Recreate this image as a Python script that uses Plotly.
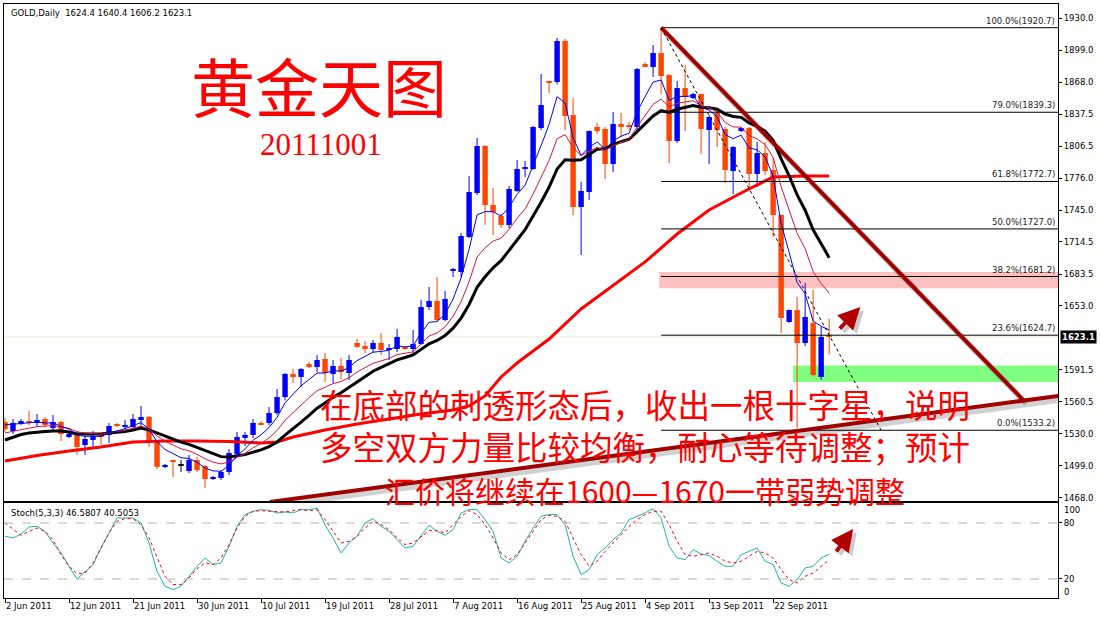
import plotly.graph_objects as go
import pandas as pd

# ---------------- data ----------------
opens = [1541.2, 1532.5, 1539.2, 1541.2, 1540.2, 1544.0, 1535.4, 1541.2, 1526.7, 1530.6,
         1519.0, 1523.8, 1528.7, 1528.7, 1539.2, 1536.3, 1536.3, 1543.1, 1546.0, 1521.9,
         1497.9, 1503.6, 1498.8, 1494.0, 1504.6, 1498.8, 1486.3, 1487.3, 1493.0, 1510.4,
         1525.8, 1528.7, 1540.2, 1540.2, 1549.8, 1565.2, 1587.4, 1584.5, 1597.0, 1594.1,
         1601.8, 1587.4, 1595.1, 1588.3, 1617.2, 1614.3, 1611.4, 1617.2, 1610.5, 1611.4,
         1613.4, 1611.4, 1616.2, 1651.8, 1657.6, 1639.3, 1686.5, 1685.5, 1719.2, 1761.6,
         1806.8, 1750.0, 1739.4, 1730.8, 1763.5, 1784.7, 1784.7, 1824.1, 1869.4, 1868.4,
         1907.9, 1836.6, 1748.1, 1762.5, 1825.1, 1823.2, 1789.5, 1828.0, 1826.0, 1825.1,
         1885.7, 1882.8, 1896.3, 1875.1, 1811.6, 1862.6, 1853.0, 1856.9, 1822.2, 1838.6,
         1823.2, 1782.7, 1821.2, 1824.1, 1779.9, 1800.1, 1783.7, 1740.4, 1637.4, 1648.9,
         1617.2, 1636.5, 1584.5, 1624.4]
highs = [1545.0, 1544.0, 1544.0, 1551.8, 1548.9, 1546.0, 1547.9, 1542.1, 1530.5, 1531.0,
         1527.7, 1532.5, 1530.6, 1540.2, 1540.2, 1543.1, 1548.9, 1556.6, 1547.0, 1522.0,
         1500.8, 1504.0, 1504.6, 1509.4, 1507.5, 1499.8, 1489.2, 1494.9, 1515.2, 1531.5,
         1531.5, 1544.0, 1542.0, 1555.6, 1572.9, 1588.4, 1592.2, 1593.0, 1599.0, 1605.6,
         1607.6, 1600.8, 1602.8, 1605.6, 1621.1, 1619.1, 1620.1, 1626.8, 1616.2, 1630.7,
         1614.3, 1629.7, 1658.6, 1671.1, 1680.7, 1667.2, 1689.5, 1723.1, 1777.9, 1814.5,
         1807.8, 1766.4, 1741.4, 1768.3, 1793.3, 1792.4, 1826.0, 1876.1, 1869.4, 1910.8,
         1909.8, 1853.0, 1772.2, 1821.8, 1829.0, 1825.1, 1839.5, 1838.6, 1830.0, 1881.9,
         1887.6, 1904.0, 1920.7, 1876.0, 1869.4, 1884.8, 1858.0, 1857.0, 1836.6, 1843.4,
         1825.1, 1806.8, 1825.1, 1825.1, 1810.7, 1810.7, 1795.3, 1741.0, 1649.5, 1661.5,
         1674.9, 1668.2, 1632.6, 1640.4]
lows = [1531.5, 1529.6, 1538.0, 1538.0, 1536.3, 1536.0, 1532.5, 1522.9, 1525.8, 1509.4,
        1509.4, 1517.1, 1519.0, 1521.0, 1536.3, 1530.6, 1535.4, 1536.3, 1517.1, 1495.9,
        1496.9, 1488.2, 1493.0, 1492.0, 1493.0, 1477.6, 1485.3, 1485.3, 1490.1, 1508.0,
        1518.0, 1525.8, 1538.0, 1538.0, 1547.9, 1562.0, 1578.7, 1574.9, 1593.0, 1589.3,
        1579.7, 1578.7, 1582.6, 1581.6, 1612.4, 1607.6, 1607.6, 1605.6, 1600.8, 1608.5,
        1610.5, 1606.6, 1615.3, 1648.9, 1638.0, 1638.0, 1680.7, 1680.7, 1718.0, 1759.6,
        1730.8, 1721.1, 1727.9, 1727.9, 1762.5, 1777.0, 1783.7, 1822.2, 1857.8, 1866.0,
        1822.2, 1740.4, 1701.9, 1754.8, 1818.4, 1775.0, 1781.8, 1815.5, 1822.2, 1822.2,
        1883.0, 1873.2, 1856.9, 1790.4, 1809.7, 1821.2, 1852.0, 1799.1, 1789.5, 1805.8,
        1771.2, 1760.6, 1820.3, 1767.3, 1767.3, 1779.0, 1719.2, 1626.8, 1636.5, 1535.0,
        1614.3, 1585.0, 1581.6, 1606.2]
closes = [1534.4, 1540.2, 1542.1, 1540.2, 1543.1, 1538.3, 1541.2, 1529.6, 1529.6, 1517.1,
          1524.8, 1527.7, 1526.7, 1537.3, 1537.3, 1538.3, 1544.0, 1546.0, 1521.9, 1497.9,
          1499.8, 1502.7, 1498.8, 1504.6, 1494.9, 1486.3, 1488.2, 1493.0, 1511.3, 1526.7,
          1528.7, 1540.2, 1539.2, 1549.8, 1565.2, 1587.4, 1584.5, 1592.2, 1594.1, 1600.8,
          1588.3, 1595.1, 1589.3, 1600.8, 1613.4, 1611.4, 1617.2, 1610.5, 1612.4, 1623.0,
          1611.4, 1616.2, 1651.8, 1657.6, 1639.3, 1659.6, 1688.5, 1720.2, 1762.5, 1806.8,
          1750.0, 1743.3, 1730.8, 1765.4, 1784.7, 1786.6, 1825.1, 1846.3, 1868.4, 1907.9,
          1835.7, 1748.1, 1763.5, 1821.2, 1821.2, 1789.5, 1828.0, 1825.1, 1825.1, 1880.9,
          1883.8, 1896.3, 1874.2, 1811.6, 1862.6, 1854.0, 1856.9, 1823.2, 1834.7, 1822.2,
          1783.7, 1805.8, 1824.1, 1779.9, 1800.1, 1782.7, 1740.4, 1641.3, 1648.9, 1617.2,
          1642.2, 1586.4, 1623.0, 1623.1]

# trading days of the chart (MT4 feed with Sunday bars, no Saturday)
dates = pd.bdate_range("2011-06-02", "2011-09-30", freq="C",
                       weekmask="Sun Mon Tue Wed Thu Fri")
label_every = 8

# moving averages
ema_fast_period, ema_fast_seed = 5, 1538.3      # blue
ema_mid_period, ema_mid_seed = 10, 1530.6       # crimson
lwma_period = 20                                 # black (linear weighted)
lwma_early = [1523.8, 1526.7, 1529.1, 1530.6, 1531.5, 1532.0, 1532.5, 1532.5, 1531.5, 1529.6,
              1529.6, 1529.6, 1529.6, 1530.6, 1531.0, 1532.0, 1533.5, 1535.4, 1533.5]
slow_ma_bar = [0, 4, 8, 12, 16, 20, 24, 28, 32, 34, 36, 40, 44, 48, 52, 56, 58, 60, 62, 64,
               68, 72, 76, 80, 84, 88, 92, 95, 96, 100, 103]
slow_ma_val = [1503.6, 1508.9, 1513.3, 1517.1, 1521.9, 1522.9, 1522.9, 1522.4, 1521.0, 1521.9,
               1526.7, 1533.5, 1539.2, 1544.0, 1548.9, 1552.7, 1556.6, 1566.2, 1584.5, 1597.9,
               1621.0, 1649.9, 1673.0, 1695.2, 1722.1, 1745.2, 1761.6, 1773.1, 1777.0, 1777.9,
               1777.9]

# stochastic (5,3,3)
stoch_k = [65.7, 64.0, 68.0, 75.7, 76.4, 71.0, 58.6, 47.9, 33.6, 20.0,
           27.5, 35.4, 53.2, 69.3, 85.4, 85.4, 85.4, 80.0, 58.6, 28.2,
           12.2, 8.6, 12.2, 22.9, 33.6, 42.5, 35.4, 37.2, 55.0, 76.4,
           89.0, 92.5, 94.3, 93.6, 90.7, 91.8, 90.7, 94.3, 94.3, 96.0,
           78.2, 64.0, 47.9, 58.6, 65.7, 80.0, 84.6, 76.4, 71.0, 62.1,
           53.2, 55.0, 65.7, 77.5, 71.0, 66.8, 72.9, 90.7, 94.3, 94.3,
           83.6, 71.0, 42.5, 37.2, 44.3, 60.4, 74.6, 87.1, 89.0, 89.0,
           78.2, 44.3, 24.7, 30.0, 46.0, 53.2, 62.1, 69.3, 83.6, 87.1,
           90.7, 95.4, 85.4, 55.0, 42.5, 40.7, 51.4, 46.8, 45.0, 39.0,
           33.6, 33.6, 46.0, 49.6, 53.2, 39.0, 35.4, 15.7, 12.2, 19.3,
           31.8, 33.6, 42.5, 46.6]
stoch_d = [80.0, 72.9, 66.8, 71.0, 74.6, 71.0, 62.1, 46.0, 33.6, 25.7,
           26.4, 37.2, 53.2, 69.3, 81.8, 84.6, 84.6, 78.2, 64.0, 42.5,
           22.9, 14.0, 14.0, 21.1, 31.1, 37.2, 35.4, 42.5, 56.8, 74.6,
           87.1, 92.5, 93.2, 92.5, 91.8, 91.8, 93.2, 94.3, 93.2, 94.3,
           83.6, 71.0, 58.6, 60.4, 65.7, 74.6, 81.8, 78.2, 72.9, 64.0,
           56.8, 58.6, 65.7, 71.8, 71.8, 69.3, 78.2, 87.1, 93.2, 88.9,
           78.2, 64.0, 47.9, 40.7, 46.0, 58.6, 71.0, 83.6, 88.2, 87.1,
           81.8, 64.0, 46.0, 33.6, 39.0, 49.6, 58.6, 67.5, 76.4, 83.6,
           89.0, 92.5, 92.5, 78.2, 60.4, 46.0, 44.3, 46.0, 47.9, 44.3,
           39.0, 37.2, 39.0, 44.3, 49.6, 47.9, 42.5, 30.0, 19.3, 15.7,
           22.9, 26.4, 33.6, 40.5]
stoch_k_last, stoch_d_last = 46.5807, 40.5053
stoch_levels = [20, 80]

# Fibonacci retracement
fib_high, fib_low = 1920.7, 1533.2
fib_ratios = [1.0, 0.79, 0.618, 0.5, 0.382, 0.236, 0.0]
fib_high_bar, fib_low_bar = 82, 109.5

# zones and trend lines
resist_zone = (1670.0, 1685.5)
resist_zone_bar = 81.75
support_zone = (1579.7, 1595.5)
support_zone_bar = 98.5
down_trend = [(82, 1920.7), (127.25, 1562.3)]
up_trend = [(33.1, 1464.2), (134.4, 1569.1)]

price_ticks = [1930.0, 1899.0, 1868.0, 1837.5, 1806.5, 1776.0, 1745.0, 1714.5, 1683.5,
               1653.0, 1591.5, 1560.5, 1530.0, 1499.0, 1468.0]

title_text = "黄金天图"
date_text = "20111001"
comment_lines = ["在底部的刺透形态后，收出一根十字星，说明",
                 "多空双方力量比较均衡，耐心等待调整；预计",
                 "汇价将继续在1600—1670一带弱势调整"]

# ---------------- layout geometry ----------------
W, H = 1100, 618
ML, MR, MT, MB = 4, 42, 4, 20
PW, PH = W - ML - MR, H - MT - MB


def px(x):
    return (x - ML) / PW


def py(y):
    return (H - MB - y) / PH


X_RANGE = [-0.125, 131.6]
Y_RANGE = [1465.1, 1943.5]
S_RANGE = [-0.36, 101.4]

UP, DOWN, FLAT = "#0000FF", "#FF4500", "#000000"
TREND = "#A00000"
SMALL = dict(family="DejaVu Sans", size=8.5, color="#000000")

# ---------------- derived series ----------------
n = len(closes)
idx = list(range(n))


def ema(vals, period, seed):
    a = 2.0 / (period + 1)
    out = [seed]
    for v in vals[1:]:
        out.append(out[-1] + a * (v - out[-1]))
    return out


ema_fast = ema(closes, ema_fast_period, ema_fast_seed)
ema_mid = ema(closes, ema_mid_period, ema_mid_seed)
lwma = []
wsum = lwma_period * (lwma_period + 1) / 2
for i in range(n):
    if i < lwma_period - 1:
        lwma.append(lwma_early[i])
    else:
        seg = closes[i - lwma_period + 1:i + 1]
        lwma.append(sum((k + 1) * v for k, v in enumerate(seg)) / wsum)

colors = []
for o, c in zip(opens, closes):
    colors.append(UP if c > o else (DOWN if c < o else FLAT))

fig = go.Figure()

# wicks
for col in (UP, DOWN, FLAT):
    wx, wy = [], []
    for i in idx:
        if colors[i] == col:
            wx += [i, i, None]
            wy += [lows[i], highs[i], None]
    fig.add_trace(go.Scatter(x=wx, y=wy, mode="lines", line=dict(color=col, width=1),
                             hoverinfo="skip", showlegend=False, xaxis="x", yaxis="y"))

# bodies
body_base = [min(o, c) for o, c in zip(opens, closes)]
body_h = [max(abs(c - o), 1.0) for o, c in zip(opens, closes)]
fig.add_trace(go.Bar(x=idx, y=body_h, base=body_base, width=0.68,
                     marker=dict(color=colors, line=dict(width=0)),
                     hoverinfo="skip", showlegend=False, xaxis="x", yaxis="y"))

# moving averages
fig.add_trace(go.Scatter(x=slow_ma_bar, y=slow_ma_val, mode="lines",
                         line=dict(color="#FF0000", width=3), showlegend=False, xaxis="x", yaxis="y"))
fig.add_trace(go.Scatter(x=idx, y=lwma, mode="lines",
                         line=dict(color="#000000", width=3), showlegend=False, xaxis="x", yaxis="y"))
fig.add_trace(go.Scatter(x=idx, y=ema_mid, mode="lines",
                         line=dict(color="#DC143C", width=1), showlegend=False, xaxis="x", yaxis="y"))
fig.add_trace(go.Scatter(x=idx, y=ema_fast, mode="lines",
                         line=dict(color="#0000FF", width=1), showlegend=False, xaxis="x", yaxis="y"))

# stochastic
fig.add_trace(go.Scatter(x=idx, y=stoch_k, mode="lines", line=dict(color="#20B2AA", width=1),
                         showlegend=False, xaxis="x2", yaxis="y2"))
fig.add_trace(go.Scatter(x=idx, y=stoch_d, mode="lines", line=dict(color="#FF0000", width=1, dash="dot"),
                         showlegend=False, xaxis="x2", yaxis="y2"))

shapes = []
# zones
shapes.append(dict(type="rect", xref="x", yref="y", x0=resist_zone_bar, x1=X_RANGE[1],
                   y0=resist_zone[0], y1=resist_zone[1], fillcolor="#FFC0C0",
                   line=dict(width=0), layer="below"))
shapes.append(dict(type="rect", xref="x", yref="y", x0=support_zone_bar, x1=X_RANGE[1],
                   y0=support_zone[0], y1=support_zone[1], fillcolor="#80FF80",
                   line=dict(width=0), layer="below"))
# bid line
shapes.append(dict(type="line", xref="x", yref="y", x0=X_RANGE[0], x1=X_RANGE[1],
                   y0=closes[-1], y1=closes[-1], line=dict(color="#EDEDD0", width=1), layer="below"))
# fib
annotations = []
for r in fib_ratios:
    lvl = round(fib_low + r * (fib_high - fib_low) + 1e-6, 1)
    shapes.append(dict(type="line", xref="x", yref="y", x0=fib_high_bar, x1=X_RANGE[1],
                       y0=lvl, y1=lvl, line=dict(color="#000000", width=1)))
    annotations.append(dict(xref="x", yref="y", x=X_RANGE[1] - 0.15, y=lvl, xanchor="right",
                            yanchor="bottom", text=f"{r * 100:.1f}%({lvl:.1f})", showarrow=False,
                            font=dict(family="DejaVu Sans", size=8.5, color="#222222")))
shapes.append(dict(type="line", xref="x", yref="y", x0=fib_high_bar, y0=fib_high,
                   x1=fib_low_bar, y1=fib_low, line=dict(color="#000000", width=1, dash="dot")))
# trend lines with soft shadow
for (x0, y0), (x1, y1) in (down_trend, up_trend):
    shapes.append(dict(type="line", xref="x", yref="y", x0=x0 + 0.4, y0=y0 - 3.5, x1=x1 + 0.4, y1=y1 - 3.5,
                       line=dict(color="rgba(0,0,0,0.18)", width=6)))
    shapes.append(dict(type="line", xref="x", yref="y", x0=x0, y0=y0, x1=x1, y1=y1,
                       line=dict(color=TREND, width=4)))
# stoch levels
for lv in stoch_levels:
    shapes.append(dict(type="line", xref="x2 domain", yref="y2", x0=0, x1=1, y0=lv, y1=lv,
                       line=dict(color="#B4B4B4", width=1, dash="dash")))

# texts
o, h, l, c = opens[-1], highs[-1], lows[-1], closes[-1]
annotations.append(dict(xref="paper", yref="paper", x=px(9), y=py(13), xanchor="left", yanchor="middle",
                        text=f"GOLD,Daily  {o} {h} {l} {c}", showarrow=False, font=SMALL))
annotations.append(dict(xref="paper", yref="paper", x=px(9), y=py(513), xanchor="left", yanchor="middle",
                        text=f"Stoch(5,3,3) {stoch_k_last} {stoch_d_last}", showarrow=False, font=SMALL))
annotations.append(dict(xref="paper", yref="paper", x=px(319), y=py(84), xanchor="center", yanchor="middle",
                        text=title_text, showarrow=False,
                        font=dict(family="Noto Sans CJK SC", size=64, color="#FF0000")))
annotations.append(dict(xref="paper", yref="paper", x=px(321), y=py(144), xanchor="center", yanchor="middle",
                        text=date_text, showarrow=False,
                        font=dict(family="Liberation Serif", size=31, color="#FF0000")))
comment_html = "<br>".join(comment_lines[:2] + [f'<span style="font-size:30px">{comment_lines[2]}</span>'])
annotations.append(dict(xref="paper", yref="paper", x=px(645), y=py(446), xanchor="center",
                        yanchor="middle", align="center", text=comment_html, showarrow=False,
                        font=dict(family="Noto Sans CJK SC", size=32.5, color="#FF0000")))
# current price tag
annotations.append(dict(xref="paper", yref="y", x=px(1060), y=closes[-1], xanchor="left", yanchor="middle",
                        text=f"<b>{closes[-1]}</b>", showarrow=False, bgcolor="#000000", borderpad=1,
                        font=dict(family="DejaVu Sans", size=8.5, color="#FFFFFF")))
# stoch 0/100 labels
annotations.append(dict(xref="paper", yref="paper", x=px(1062), y=py(510), xanchor="left", yanchor="middle",
                        text="100", showarrow=False, font=SMALL))
annotations.append(dict(xref="paper", yref="paper", x=px(1062), y=py(592), xanchor="left", yanchor="middle",
                        text="0", showarrow=False, font=SMALL))
# arrows (with shadow)
for (ax_, ay_, xr, yr, x, y, dy) in ((-22, 23, "x", "y", 106.9, 1651.8, 3.2),
                                      (-18, 24, "x2", "y2", 106.0, 73.6, 3.2)):
    annotations.append(dict(xref=xr, yref=yr, x=x + 0.45, y=y - dy, ax=ax_, ay=ay_, text="", showarrow=True,
                            arrowhead=2, arrowsize=1.1, arrowwidth=4, arrowcolor="rgba(0,0,0,0.2)"))
    annotations.append(dict(xref=xr, yref=yr, x=x, y=y, ax=ax_, ay=ay_, text="", showarrow=True,
                            arrowhead=2, arrowsize=1.1, arrowwidth=4, arrowcolor="#B00000"))

tick_pos = idx[::label_every]
tick_txt = [f"{d.day} {d:%b %Y}" for d in dates[::label_every]]

axis_common = dict(showgrid=False, zeroline=False, showline=True, mirror=True,
                   linecolor="#000000", linewidth=1)
fig.update_layout(
    width=W, height=H, margin=dict(l=ML, r=MR, t=MT, b=MB),
    paper_bgcolor="#FFFFFF", plot_bgcolor="#FFFFFF", barmode="overlay", showlegend=False,
    xaxis=dict(domain=[0, 1], range=X_RANGE, anchor="y", showticklabels=False, ticks="", **axis_common),
    yaxis=dict(domain=[py(501), 1], range=Y_RANGE, side="right", anchor="x", tickvals=price_ticks,
               ticktext=[f"{v:.1f}" for v in price_ticks], ticks="outside", ticklen=3,
               tickcolor="#000000", tickfont=SMALL, **axis_common),
    xaxis2=dict(domain=[0, 1], range=X_RANGE, anchor="y2", matches="x", tickvals=tick_pos,
                ticktext=tick_txt, ticks="outside", ticklen=4, tickcolor="#000000",
                ticklabelposition="outside right", tickfont=SMALL, **axis_common),
    yaxis2=dict(domain=[0, py(503)], range=S_RANGE, side="right", anchor="x2", tickvals=stoch_levels,
                ticktext=[str(v) for v in stoch_levels], ticks="outside", ticklen=3,
                tickcolor="#000000", tickfont=SMALL, **axis_common),
    shapes=shapes, annotations=annotations,
)

fig.write_html("out.html", config={"displayModeBar": False},
               post_script="document.body.style.margin='0px';")
